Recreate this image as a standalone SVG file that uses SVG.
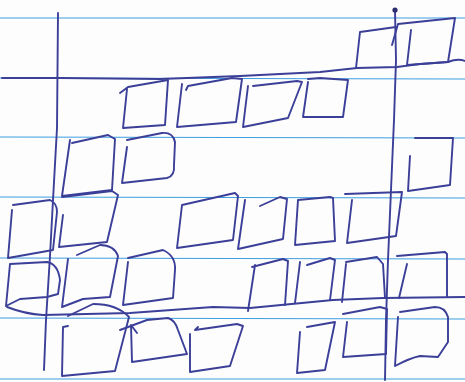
<svg xmlns="http://www.w3.org/2000/svg" width="465" height="382" viewBox="0 0 465 382">
<style>
.rule{stroke:#3f9fe0;stroke-width:1.2;fill:none}
.pen{stroke:#3b3f98;stroke-width:1.9;fill:none;stroke-linecap:round;stroke-linejoin:round}
.ink{fill:#2a2c6e}
</style>
<rect width="465" height="382" fill="#fdfdfd"/>
<g id="paper-rules">
<line class="rule" x1="0" y1="18" x2="465" y2="18"/>
<line class="rule" x1="0" y1="78" x2="465" y2="79"/>
<line class="rule" x1="0" y1="137" x2="465" y2="138"/>
<line class="rule" x1="0" y1="197" x2="465" y2="198"/>
<line class="rule" x1="0" y1="258" x2="465" y2="259"/>
<line class="rule" x1="0" y1="318" x2="465" y2="319"/>
<line class="rule" x1="0" y1="379" x2="465" y2="379"/>
</g>
<g id="connectors">
<path class="pen" d="M58,13 L57,128 L53,200 L50,256 L46,320 L44,370"/>
<path class="pen" d="M395,10 L396,60 L394,120 L391,190 L388,260 L386,320 L385,380"/>
<circle class="ink" cx="395" cy="10" r="2.6"/>
<path class="pen" d="M2,78 L60,78 L160,79 L240,76 L320,72 L357,68 L397,67 L420,64 L448,62 Q458,58 465,61"/>
<path class="pen" d="M7,307 Q25,314 43,315 L130,313 L213,307 L250,308 L333,300 L383,298 L465,297"/>
</g>
<g id="boxes">
<path id="b1" class="pen" d="M396,27 L360,32 L356,68"/>
<path id="b2" class="pen" d="M411,30 L407,65 L448,62 L455,18 L398,24 L392,45"/>
<path id="b3" class="pen" d="M120,93 L128,87 L168,80 L165,125 L123,128 L127,89"/>
<path id="b4" class="pen" d="M186,90 L188,86 L232,78 L242,79 L236,122 L177,127 L182,84"/>
<path id="b5" class="pen" d="M253,86 L297,81 L302,82 L288,118 L243,127 L248,86"/>
<path id="b6" class="pen" d="M308,82 L303,117 L343,117 L348,80 L320,78 L308,79"/>
<path id="b7" class="pen" d="M70,140 L62,196 L112,190 L115,139 L108,135 L72,143"/>
<path id="b8" class="pen" d="M127,147 L122,183 L167,178 Q175,176 174,165 L175,142 Q173,132 162,133 L127,140"/>
<path id="b9" class="pen" d="M410,156 L408,191 L450,185 L453,138 L415,138"/>
<path id="b10" class="pen" d="M12,210 L8,258 L53,250 L57,212 Q57,203 50,200 L13,205"/>
<path id="b11" class="pen" d="M63,215 L59,247 L107,242 L118,195 L112,191 L62,197"/>
<path id="b12" class="pen" d="M182,205 L235,193 L238,196 L233,240 L177,248 L182,205"/>
<path id="b13" class="pen" d="M260,206 L280,197 L287,199 L283,239 L238,249 L245,200"/>
<path id="b14" class="pen" d="M298,200 L330,197 L333,198 L335,241 L295,245 L298,200"/>
<path id="b15" class="pen" d="M352,200 L347,243 L396,236 L402,192 L345,194"/>
<path id="b16" class="pen" d="M10,264 L47,262 Q58,264 60,280 L58,294 L47,297 L20,299 L6,306 L10,264"/>
<path id="b17" class="pen" d="M68,259 L62,307 L83,299 L110,297 L118,256 Q114,245 100,245 L77,255"/>
<path id="b18" class="pen" d="M128,262 L123,305 L173,298 L175,270 Q176,256 163,250 L128,258"/>
<path id="b19" class="pen" d="M255,265 L248,311 M252,267 L283,259 L288,261 L285,305"/>
<path id="b20" class="pen" d="M300,262 L295,303 M307,265 L330,258 L335,260 L330,300"/>
<path id="b21" class="pen" d="M346,264 L342,302 M346,262 L377,257 L383,264 L385,298"/>
<path id="b22" class="pen" d="M407,264 L399,298 M397,256 L445,252 L447,254 L447,297"/>
<path id="b23" class="pen" d="M68,326 L63,327 L62,376 L115,371 L129,317 Q117,304 93,304 L68,316"/>
<path id="b24" class="pen" d="M120,330 L147,320 L168,318 Q175,320 178,330 L187,354 L132,362 L131,325 L137,333"/>
<path id="b25" class="pen" d="M198,327 L195,330 L237,324 L243,326 L230,366 L190,372 L190,334"/>
<path id="b26" class="pen" d="M300,332 L297,373 L325,370 L335,322 L307,327"/>
<path id="b27" class="pen" d="M347,322 L343,357 L386,354 L387,309 L380,307 L343,314"/>
<path id="b28" class="pen" d="M398,317 L395,366 Q410,358 420,356 L438,357 L448,342 L448,317 Q445,307 435,307 L400,312"/>
</g>
</svg>
